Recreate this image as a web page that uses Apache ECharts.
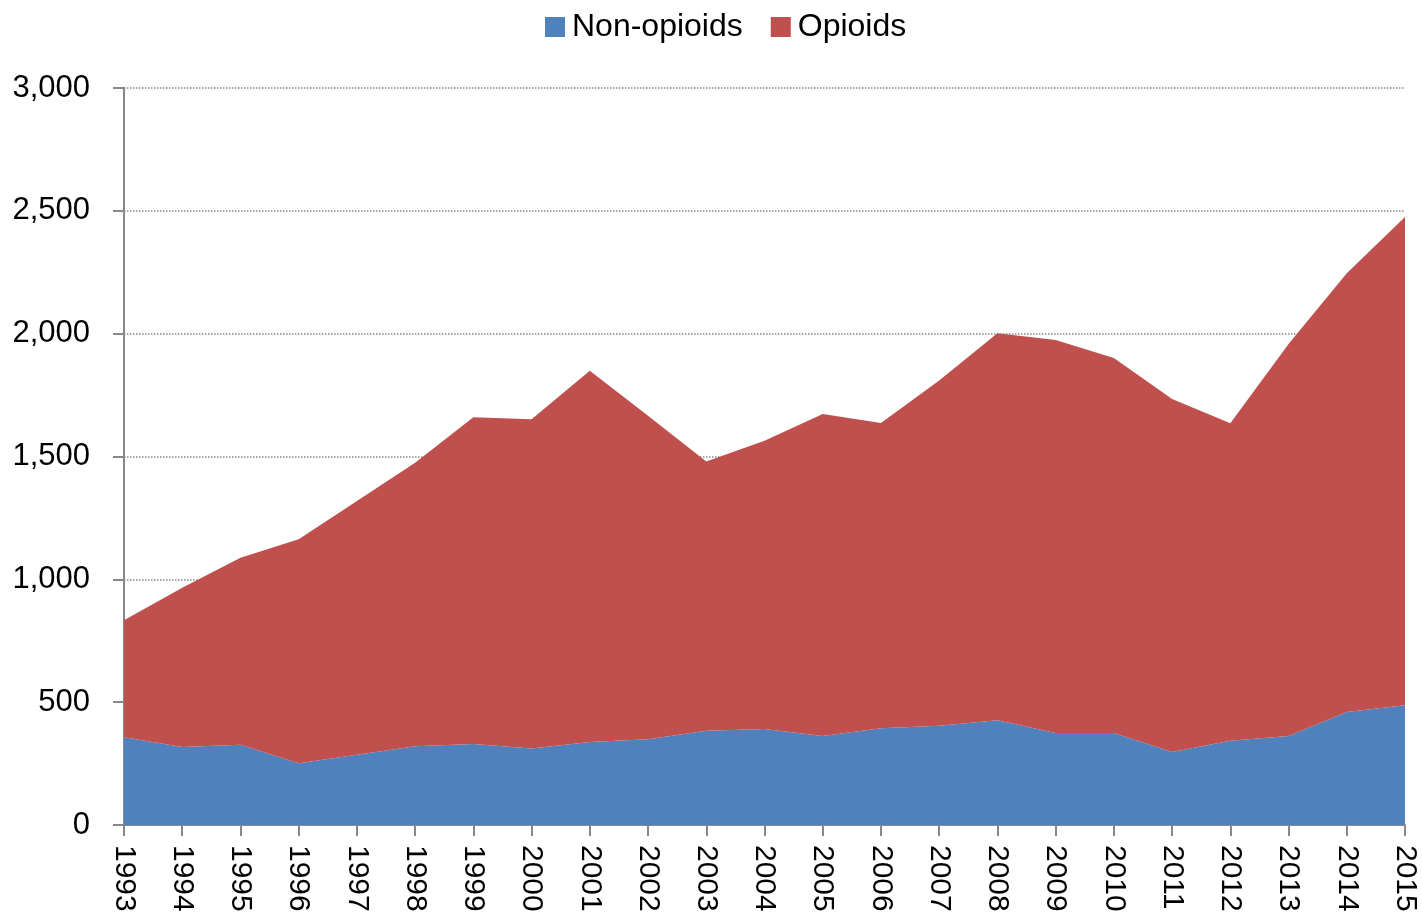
<!DOCTYPE html>
<html>
<head>
<meta charset="utf-8">
<script src="https://cdn.jsdelivr.net/npm/echarts@6/dist/echarts.min.js"></script>
<style>
  html, body { margin: 0; padding: 0; background: #fff; }
  #chart { width: 1422px; height: 917px; }
</style>
</head>
<body>
<div id="chart"></div>
<script>
// years on the x axis
const years = ["1993", "1994", "1995", "1996", "1997", "1998", "1999", "2000", "2001", "2002", "2003",
  "2004", "2005", "2006", "2007", "2008", "2009", "2010", "2011", "2012", "2013", "2014", "2015"];
// stacked series
const nonOpioids = [357, 317, 327, 251, 286, 321, 330, 311, 338, 349, 384,
  391, 362, 394, 404, 426, 374, 374, 297, 343, 362, 460, 487];
const opioids = [476, 649, 761, 912, 1033, 1154, 1330, 1341, 1511, 1317, 1096,
  1173, 1311, 1242, 1405, 1576, 1600, 1527, 1437, 1292, 1596, 1786, 1988];

const font = "'Liberation Sans Narrow', 'Arial Narrow', 'Liberation Sans', sans-serif";

const myChart = echarts.init(document.getElementById("chart"));

const options = {
  animation: false,
  textStyle: { fontFamily: font },
  legend: {
    top: 6,
    left: 540,
    itemWidth: 20,
    itemHeight: 20,
    itemGap: 28,
    icon: "rect",
    textStyle: { fontSize: 32, color: "#000", fontFamily: font, padding: [0, 0, 0, 2] },
    data: ["Non-opioids", "Opioids"],
  },
  grid: { left: 124, right: 17, top: 88, bottom: 92 },
  xAxis: {
    type: "category",
    data: years,
    boundaryGap: false,
    axisLine: { lineStyle: { color: "#888", width: 2 } },
    axisTick: { show: true, length: 11, alignWithLabel: true, lineStyle: { color: "#888", width: 2 } },
    axisLabel: { rotate: -90, fontSize: 30, color: "#000", margin: 20, interval: 0, fontFamily: font },
  },
  yAxis: {
    type: "value",
    min: 0,
    max: 3000,
    interval: 500,
    axisLine: { show: true, lineStyle: { color: "#888", width: 2 } },
    axisTick: { show: true, length: 11, lineStyle: { color: "#888", width: 2 } },
    axisLabel: {
      fontSize: 31,
      color: "#000",
      margin: 34,
      fontFamily: font,
      formatter: (v) => v.toLocaleString("en-US"),
    },
    splitLine: { show: true, lineStyle: { color: "#888", type: "dotted", width: 1.5 } },
  },
  series: [
    {
      name: "Non-opioids",
      type: "line",
      stack: "total",
      data: nonOpioids,
      showSymbol: false,
      lineStyle: { width: 0 },
      itemStyle: { color: "#4F81BD" },
      areaStyle: { color: "#4F81BD", opacity: 1 },
    },
    {
      name: "Opioids",
      type: "line",
      stack: "total",
      data: opioids,
      showSymbol: false,
      lineStyle: { width: 0 },
      itemStyle: { color: "#C0504D" },
      areaStyle: { color: "#C0504D", opacity: 1 },
    },
  ],
};

myChart.setOption(options);
</script>
</body>
</html>
